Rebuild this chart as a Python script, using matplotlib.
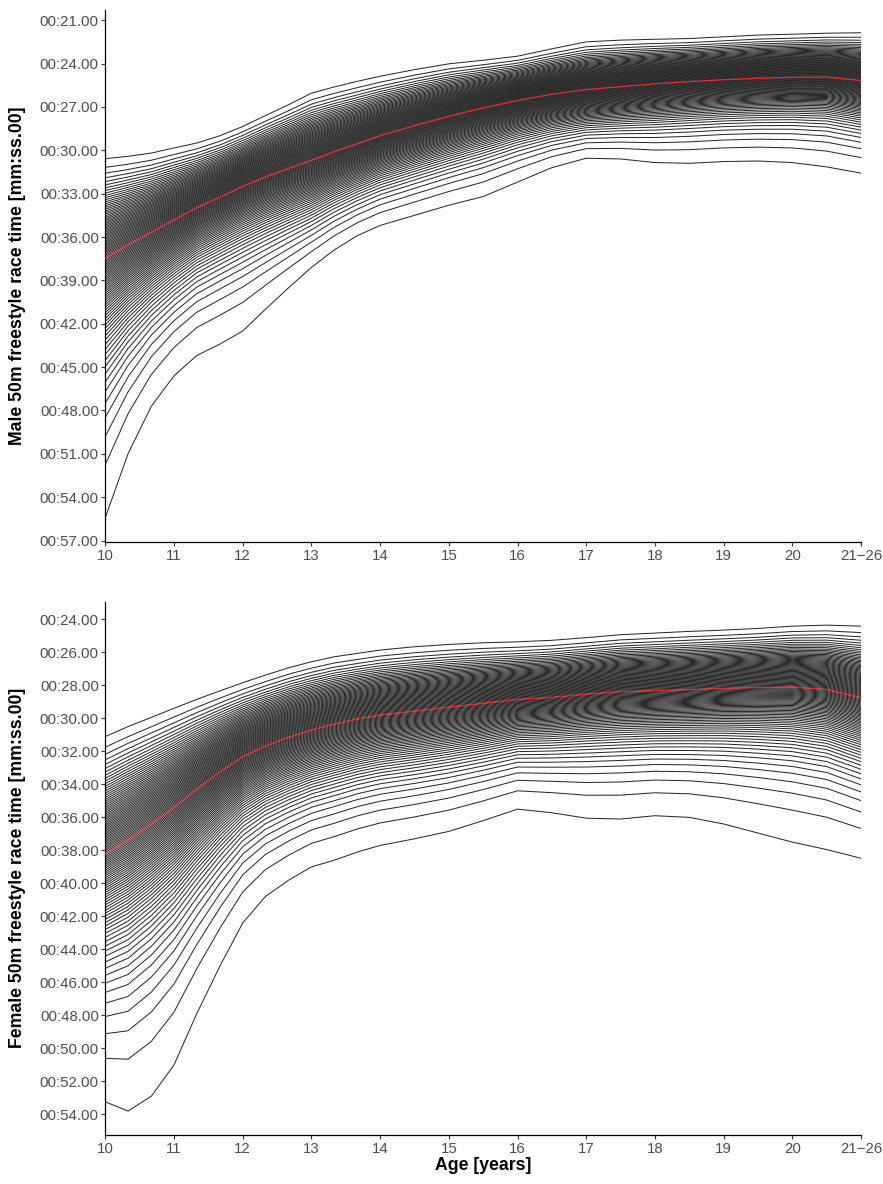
import numpy as np
import matplotlib
matplotlib.use("Agg")
import matplotlib.pyplot as plt
from matplotlib.ticker import FuncFormatter, FixedLocator
from statistics import NormalDist

plt.rcParams['font.family'] = ['Liberation Sans', 'DejaVu Sans']

# ages (21 = "21-26" group)
ages = [10, 10.33, 10.67, 11, 11.33, 11.67, 12, 12.33, 12.67, 13, 13.33, 13.67,
        14, 14.5, 15, 15.5, 16, 16.5, 17, 17.5, 18, 18.5, 19, 19.5, 20, 20.5, 21]

# male 50m freestyle, seconds: 1st, 50th and 99th percentile
male_p01 = [30.58, 30.42, 30.19, 29.84, 29.50, 28.99, 28.35, 27.60, 26.84, 26.05, 25.62, 25.23,
            24.88, 24.42, 24.02, 23.77, 23.49, 22.98, 22.50, 22.38, 22.32, 22.27, 22.15, 22.03,
            21.97, 21.90, 21.87]
male_p50 = [37.47, 36.54, 35.67, 34.81, 33.98, 33.24, 32.50, 31.85, 31.25, 30.70, 30.10, 29.55,
            28.99, 28.30, 27.65, 27.07, 26.56, 26.12, 25.80, 25.60, 25.40, 25.25, 25.12, 25.02,
            24.95, 24.93, 25.18]
male_p99 = [55.40, 51.00, 47.70, 45.60, 44.20, 43.40, 42.50, 41.00, 39.50, 38.10, 36.90, 35.90,
            35.20, 34.50, 33.80, 33.20, 32.20, 31.20, 30.55, 30.60, 30.85, 30.90, 30.78, 30.74,
            30.85, 31.15, 31.58]

# female 50m freestyle, seconds
female_p01 = [31.10, 30.50, 29.94, 29.39, 28.85, 28.33, 27.84, 27.38, 26.93, 26.57, 26.27, 26.06,
              25.86, 25.66, 25.52, 25.42, 25.36, 25.27, 25.11, 24.93, 24.83, 24.73, 24.65, 24.55,
              24.41, 24.35, 24.41]
female_p50 = [38.22, 37.38, 36.41, 35.40, 34.30, 33.24, 32.33, 31.68, 31.15, 30.71, 30.35, 30.04,
              29.80, 29.56, 29.32, 29.09, 28.85, 28.73, 28.53, 28.38, 28.32, 28.26, 28.18, 28.13,
              28.10, 28.25, 28.75]
female_p99 = [53.24, 53.80, 52.90, 51.00, 47.90, 45.00, 42.40, 40.80, 39.80, 39.00, 38.60, 38.10,
              37.70, 37.30, 36.85, 36.20, 35.50, 35.72, 36.05, 36.10, 35.90, 36.00, 36.40, 36.95,
              37.50, 37.95, 38.48]

percentiles = list(range(1, 100))
x_ticks = [10, 11, 12, 13, 14, 15, 16, 17, 18, 19, 20, 21]
x_tick_labels = ["10", "11", "12", "13", "14", "15", "16", "17", "18", "19", "20", "21\u221226"]

nd = NormalDist()
Z99 = nd.inv_cdf(0.99)


def solve_L(a, b):
    # Box-Cox power so that the 1st / 99th percentile match the reads
    s = np.log(a * b)
    if abs(s) < 1e-3:
        return 0.0
    f = lambda l: a ** l + b ** l - 2.0
    if s > 0:
        lo, hi = -30.0, -1e-4
    else:
        lo, hi = 1e-4, 30.0
    for _ in range(100):
        m = 0.5 * (lo + hi)
        if (f(m) > 0) == (f(lo) > 0):
            lo = m
        else:
            hi = m
    return 0.5 * (lo + hi)


def percentile_curves(p01, p50, p99):
    p01, p50, p99 = np.array(p01), np.array(p50), np.array(p99)
    curves = {}
    Ls, Ss = [], []
    for lo, mid, hi in zip(p01, p50, p99):
        L = solve_L(lo / mid, hi / mid)
        if L == 0.0:
            S = np.log(hi / mid) / Z99
        else:
            S = ((hi / mid) ** L - 1) / (L * Z99)
        Ls.append(L)
        Ss.append(S)
    Ls, Ss = np.array(Ls), np.array(Ss)
    for p in percentiles:
        z = nd.inv_cdf(p / 100)
        safe = np.where(Ls == 0.0, 1.0, Ls)
        y = np.where(Ls == 0.0, p50 * np.exp(Ss * z),
                     p50 * (1 + safe * Ss * z) ** (1 / safe))
        curves[p] = y
    return curves


def fmt_time(v, pos=None):
    m = int(v // 60)
    s = v - 60 * m
    return f"{m:02d}:{s:05.2f}"


fig = plt.figure(figsize=(8.83, 11.84), dpi=100)
ax1 = fig.add_axes([0.1193, 0.5422, 0.8558, 0.4493])
ax2 = fig.add_axes([0.1193, 0.0414, 0.8558, 0.4504])

panels = [
    (ax1, male_p01, male_p50, male_p99, (57.1, 20.3), np.arange(21, 58, 3)),
    (ax2, female_p01, female_p50, female_p99, (55.25, 22.93), np.arange(24, 55, 2)),
]

for ax, p01, p50, p99, ylim, yt in panels:
    curves = percentile_curves(p01, p50, p99)
    for p in percentiles:
        if p == 50:
            continue
        ax.plot(ages, curves[p], color="#262626", lw=0.72, solid_joinstyle="round")
    ax.plot(ages, curves[50], color="#e8262b", lw=0.9, zorder=5)

    ax.set_xlim(10, 21)
    ax.set_ylim(*ylim)
    ax.xaxis.set_major_locator(FixedLocator(x_ticks))
    ax.set_xticklabels(x_tick_labels)
    ax.yaxis.set_major_locator(FixedLocator(yt))
    ax.yaxis.set_major_formatter(FuncFormatter(fmt_time))

    for side in ["top", "right"]:
        ax.spines[side].set_visible(False)
    for side in ["left", "bottom"]:
        ax.spines[side].set_color("black")
        ax.spines[side].set_linewidth(0.9)
    ax.tick_params(axis="both", direction="out", length=3.2, width=0.8,
                   color="#333333", labelcolor="#4d4d4d", labelsize=10.8, pad=1.5)

fig.text(18 / 883, 1 - 276 / 1184, "Male 50m freestyle race time [mm:ss.00]",
         rotation=90, ha="center", va="center", fontsize=12.7, fontweight="bold")
fig.text(18 / 883, 1 - 868 / 1184, "Female 50m freestyle race time [mm:ss.00]",
         rotation=90, ha="center", va="center", fontsize=12.7, fontweight="bold")
fig.text(483 / 883, 1 - 1165 / 1184, "Age [years]",
         ha="center", va="center", fontsize=12.7, fontweight="bold")

fig.savefig("out.png", dpi=100)
